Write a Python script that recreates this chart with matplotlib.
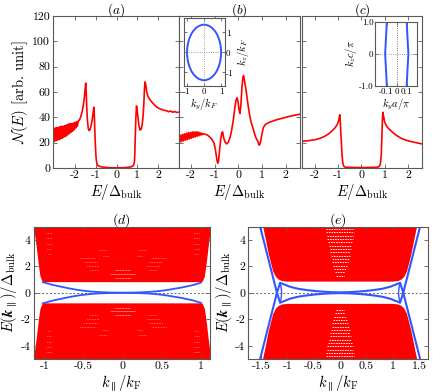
import matplotlib
matplotlib.use("Agg")
import matplotlib.pyplot as plt
from matplotlib.patches import Ellipse
import numpy as np

plt.rcParams['font.family'] = ['cmr10', 'DejaVu Serif']
plt.rcParams['mathtext.fontset'] = 'cm'
plt.rcParams['axes.unicode_minus'] = False
plt.rcParams['axes.formatter.use_mathtext'] = True

RED = '#ff0000'
BLUE = '#3355ff'
FRAME = '0.35'

# ---- (a) density of states ----
E_a = [-3.04, -3.00, -2.96, -2.92, -2.88, -2.84, -2.80, -2.76, -2.72, -2.68,
       -2.64, -2.60, -2.56, -2.52, -2.48, -2.44, -2.40, -2.36, -2.32, -2.28,
       -2.24, -2.20, -2.16, -2.12, -2.08, -2.04, -2.00, -1.96, -1.92, -1.88,
       -1.84, -1.80, -1.75, -1.70, -1.65, -1.60, -1.55, -1.51, -1.48, -1.46,
       -1.43, -1.40, -1.36, -1.32, -1.28, -1.24, -1.20, -1.16, -1.12, -1.09,
       -1.07, -1.05, -1.02, -0.99, -0.96, -0.92, -0.85, -0.70, -0.40, 0.00,
       0.40, 0.70, 0.82, 0.86, 0.88, 0.90, 0.93, 0.96, 0.99, 1.03,
       1.08, 1.13, 1.18, 1.23, 1.27, 1.31, 1.34, 1.37, 1.40, 1.45,
       1.50, 1.60, 1.75, 1.90, 2.05, 2.20, 2.30, 2.40, 2.50, 2.60,
       2.70, 2.80, 2.90, 3.00]
N_a = [31.0, 21.0, 31.5, 21.5, 32.0, 22.0, 32.0, 22.5, 32.5, 23.0,
       33.0, 23.5, 33.0, 24.5, 33.5, 25.0, 34.0, 26.0, 34.5, 27.0,
       35.0, 28.0, 35.0, 29.0, 35.5, 30.0, 36.0, 31.5, 36.5, 33.0,
       37.0, 37.5, 39.0, 41.5, 44.5, 49.0, 55.0, 62.0, 67.0, 62.0,
       48.0, 38.0, 31.5, 29.5, 30.0, 32.0, 35.0, 39.0, 44.0, 48.0,
       44.0, 33.0, 20.0, 10.0, 5.0, 2.5, 1.5, 0.8, 0.3, 0.1,
       0.3, 0.9, 2.0, 5.0, 12.0, 25.0, 40.0, 49.0, 46.0, 40.0,
       33.0, 30.0, 30.5, 34.0, 40.0, 50.0, 62.0, 68.0, 66.0, 60.0,
       57.0, 54.0, 51.0, 48.5, 47.0, 46.0, 45.5, 45.2, 44.4, 45.0,
       44.0, 44.6, 43.8, 44.2]

# ---- (b) density of states ----
E_b = [-2.50, -2.46, -2.42, -2.38, -2.34, -2.30, -2.26, -2.22, -2.18, -2.14,
       -2.10, -2.06, -2.02, -1.98, -1.94, -1.90, -1.86, -1.82, -1.78, -1.74,
       -1.70, -1.66, -1.62, -1.58, -1.54, -1.50, -1.45, -1.30, -1.15, -1.03,
       -0.97, -0.93, -0.89, -0.86, -0.83, -0.79, -0.74, -0.69, -0.66, -0.62,
       -0.56, -0.49, -0.42, -0.35, -0.28, -0.21, -0.15, -0.10, -0.05, -0.01,
       0.03, 0.07, 0.11, 0.15, 0.19, 0.22, 0.26, 0.33, 0.40, 0.47,
       0.54, 0.61, 0.68, 0.74, 0.79, 0.83, 0.86, 0.89, 0.93, 0.98,
       1.03, 1.07, 1.15, 1.30, 1.60, 1.90, 2.20, 2.60]
N_b = [25.5, 20.5, 26.0, 21.0, 26.5, 21.5, 27.0, 22.0, 27.5, 22.5,
       28.0, 23.0, 28.0, 23.5, 28.5, 24.0, 28.5, 24.5, 28.5, 25.0,
       28.5, 25.5, 28.0, 26.0, 27.5, 26.5, 27.0, 26.0, 23.5, 20.0,
       15.0, 10.0, 5.0, 3.8, 6.0, 14.0, 23.0, 28.0, 28.5, 24.0,
       20.5, 19.0, 20.5, 24.0, 30.0, 38.0, 47.0, 53.5, 55.5, 52.0,
       46.0, 43.0, 50.0, 63.0, 71.0, 73.0, 69.0, 61.0, 51.0, 42.5,
       36.0, 32.0, 27.5, 24.0, 22.0, 21.0, 18.5, 18.0, 20.0, 25.0,
       30.0, 32.5, 34.5, 36.0, 38.0, 39.5, 41.0, 42.5]

# ---- (c) density of states ----
E_c = [-2.60, -2.30, -2.00, -1.80, -1.60, -1.40, -1.25, -1.12, -1.02, -0.97,
       -0.93, -0.91, -0.89, -0.86, -0.83, -0.80, -0.76, -0.70, 0.00, 0.70,
       0.78, 0.82, 0.85, 0.88, 0.90, 0.92, 0.95, 1.00, 1.10, 1.20,
       1.35, 1.50, 1.70, 1.90, 2.10, 2.40, 2.60]
N_c = [21.0, 21.5, 22.3, 23.3, 24.8, 27.0, 29.5, 32.0, 35.0, 38.0,
       42.0, 38.0, 30.0, 20.0, 10.0, 4.0, 1.5, 0.6, 0.3, 0.6,
       1.5, 4.0, 10.0, 25.0, 38.0, 44.0, 41.0, 36.0, 32.5, 30.5,
       28.0, 25.8, 23.5, 22.0, 21.0, 19.8, 19.0]

# insets: Fermi surface (b) semi-axes, Fermi lines (c)
fs_ky_half = 1.0
fs_kz_half = 1.39
fl_kz = [-1.0, -0.5, 0.0, 0.5, 1.0]
fl_ky_left = [-0.098, -0.106, -0.115, -0.106, -0.098]
fl_ky_right = [0.098, 0.106, 0.115, 0.106, 0.098]

# ---- (d) spectrum ----
d_edge_k = [-1.14, -1.10, -1.07, -1.05, -1.02]
d_edge_E = [5.3, 3.5, 2.0, 1.2, 0.80]
d_surf_k = [-1.02, -0.90, -0.76, -0.64, -0.55, -0.42, -0.30, -0.15, 0.0,
            0.15, 0.30, 0.42, 0.55, 0.64, 0.76, 0.90, 1.00]
d_surf_E = [0.80, 0.60, 0.42, 0.28, 0.19, 0.10, 0.05, 0.015, 0.0,
            0.015, 0.05, 0.10, 0.19, 0.28, 0.40, 0.58, 0.76]
# white gaps in the dense spectrum (E, k_start, k_end)
d_gap_E = [4.5, 4.1, 3.7, 3.3, 2.9, 2.6, 2.3, 2.0, 1.7, 1.7, 1.4, 1.15, 3.2, 2.8]
d_gap_k0 = [-0.98, -0.98, -0.97, -0.97, -0.96, -0.55, -0.50, -0.46, -0.42, -0.10, -0.16, -0.10, -0.30, -0.25]
d_gap_k1 = [-0.90, -0.90, -0.90, -0.91, -0.91, -0.36, -0.32, -0.30, -0.32, 0.10, 0.16, 0.10, -0.20, -0.18]

# ---- (e) spectrum ----
e_edge_k = [-1.48, -1.42, -1.36, -1.31, -1.27, -1.22, -1.17, -1.10, -1.00]
e_edge_E = [5.3, 4.2, 3.0, 2.2, 1.6, 1.2, 1.0, 0.88, 0.84]
e_line_k = [-1.52, -1.20, -1.14, -0.95, -0.80, -0.63, -0.45, -0.32, -0.15, 0.0,
            0.15, 0.32, 0.45, 0.63, 0.80, 0.95, 1.14, 1.20, 1.52]
e_line_E = [-5.0, 0.0, 0.75, 0.45, 0.30, 0.20, 0.12, 0.08, 0.04, 0.03,
            0.04, 0.08, 0.12, 0.20, 0.30, 0.45, 0.75, 0.0, -5.0]
e_cusp_k = [-1.14, -1.12, -1.11, -1.12, -1.14]
e_cusp_E = [0.75, 0.40, 0.0, -0.40, -0.75]
e_gap_E = [1.30, 1.55, 1.80, 2.05, 2.30, 2.55, 2.80, 3.05, 3.30, 3.55, 3.80, 4.05, 4.30, 4.55, 4.80]
e_gap_half = [0.08, 0.10, 0.12, 0.13, 0.15, 0.16, 0.18, 0.19, 0.20, 0.21, 0.23, 0.24, 0.25, 0.26, 0.27]

top_xticks = [-2, -1, 0, 1, 2]
dos_yticks = [0, 20, 40, 60, 80, 100, 120]
d_xticks = [-1, -0.5, 0, 0.5, 1]
e_xticks = [-1.5, -1, -0.5, 0, 0.5, 1, 1.5]
band_yticks = [-4, -2, 0, 2, 4]


def fmt(v):
    return '%g' % v


def style(ax, fs=8.5):
    for s in ax.spines.values():
        s.set_color(FRAME)
        s.set_linewidth(0.8)
    ax.tick_params(direction='in', top=True, right=True, length=3,
                   width=0.6, color=FRAME, labelsize=fs, pad=2)


W, H = 436.0, 392.0


def px_axes(fig, x0, y0, x1, y1):
    return fig.add_axes([x0 / W, 1 - y1 / H, (x1 - x0) / W, (y1 - y0) / H])


fig = plt.figure(figsize=(4.36, 3.92), dpi=100)

ax_a = px_axes(fig, 53, 16, 179, 168)
ax_b = px_axes(fig, 179, 16, 300, 168)
ax_c = px_axes(fig, 302, 16, 422, 168)
top = [(ax_a, E_a, N_a, (-3.05, 3.0), '(a)'),
       (ax_b, E_b, N_b, (-2.5, 2.6), '(b)'),
       (ax_c, E_c, N_c, (-2.55, 2.6), '(c)')]
for ax, E, N, xl, t in top:
    ax.plot(E, N, color=RED, lw=1.2)
    ax.set_xlim(*xl)
    ax.set_ylim(0, 120)
    ax.set_xticks(top_xticks)
    ax.set_xticklabels([fmt(v) for v in top_xticks])
    ax.set_yticks(dos_yticks)
    style(ax)
    ax.set_xlabel(r'$E/\Delta_{\rm bulk}$', fontsize=10.5, labelpad=1)
    ax.set_title('$' + t + '$', fontsize=9.5, pad=1.5)
ax_a.set_yticklabels([fmt(v) for v in dos_yticks])
ax_a.set_ylabel(r'$\mathcal{N}(E)$ [arb. unit]', fontsize=10.5, labelpad=2)
ax_b.set_yticklabels([])
ax_c.set_yticklabels([])

# inset (b)
ins_b = px_axes(fig, 184, 17.5, 224.5, 86)
ins_b.add_patch(Ellipse((0, 0), 2 * fs_ky_half, 2 * fs_kz_half, fill=False,
                        ec=BLUE, lw=1.4))
ins_b.axhline(0, color='0.5', ls=':', lw=0.6)
ins_b.axvline(0, color='0.5', ls=':', lw=0.6)
ins_b.set_xlim(-1.18, 1.2)
ins_b.set_ylim(-1.68, 1.75)
ins_b.set_xticks([-1, 0, 1])
ins_b.set_xticklabels(['-1', '0', '1'])
ins_b.set_yticks([-1, 0, 1])
ins_b.set_yticklabels(['-1', '0', '1'])
style(ins_b, fs=6.5)
ins_b.tick_params(labelleft=False, labelright=True, length=2, pad=1)
ins_b.yaxis.set_label_position('right')
ins_b.set_xlabel(r'$k_y/k_F$', fontsize=7.5, labelpad=0)
ins_b.set_ylabel(r'$k_z/k_F$', fontsize=7.5, labelpad=1)

# inset (c)
ins_c = px_axes(fig, 375, 21.5, 417, 86)
ins_c.plot(fl_ky_left, fl_kz, color=BLUE, lw=1.4)
ins_c.plot(fl_ky_right, fl_kz, color=BLUE, lw=1.4)
ins_c.axhline(0, color='0.5', ls=':', lw=0.6)
ins_c.axvline(0, color='0.3', ls=':', lw=0.6)
ins_c.set_xlim(-0.215, 0.2)
ins_c.set_ylim(-1.0, 1.0)
ins_c.set_xticks([-0.1, 0, 0.1])
ins_c.set_xticklabels(['-0.1', '0', '0.1'])
ins_c.set_yticks([-1.0, 0, 1.0])
ins_c.set_yticklabels(['-1.0', '0', '1.0'])
style(ins_c, fs=6.5)
ins_c.tick_params(length=2, pad=1)
ins_c.set_xlabel(r'$k_y a/\pi$', fontsize=7.5, labelpad=0)
ins_c.set_ylabel(r'$k_z c/\pi$', fontsize=7.5, labelpad=0)

# ---- bottom panels ----
ax_d = px_axes(fig, 33.5, 226.5, 209.5, 359)
ax_e = px_axes(fig, 248, 226.5, 428, 359)


def band_polygon(edge_k, edge_E, sign):
    ks = list(edge_k) + [-k for k in edge_k[::-1]]
    Es = [sign * e for e in edge_E] + [sign * e for e in edge_E[::-1]]
    return ks, Es


for ax, ek, eE in [(ax_d, d_edge_k, d_edge_E), (ax_e, e_edge_k, e_edge_E)]:
    for sgn in (1, -1):
        ks, Es = band_polygon(ek, eE, sgn)
        ax.fill(ks, Es, color=RED, lw=0, zorder=1)
    ax.axhline(0, color='0.4', ls=(0, (2, 2)), lw=0.7, zorder=2)

# white gaps in the dense bulk spectrum of (d)
for E, k0, k1 in zip(d_gap_E, d_gap_k0, d_gap_k1):
    for se in (1, -1):
        for sk in (1, -1):
            ax_d.plot([sk * k0, sk * k1], [se * E, se * E], color='white',
                      lw=0.45, alpha=0.85, ls=(0, (1, 1.5)), zorder=1.5)

# white gaps in the center strip of (e)
for E, h in zip(e_gap_E, e_gap_half):
    for se in (1, -1):
        ax_e.plot([-h, h], [se * E, se * E], color='white', lw=0.6,
                  ls=(0, (2, 1)), zorder=1.5)

ax_d.plot(d_surf_k, d_surf_E, color=BLUE, lw=1.3, zorder=3)
ax_d.plot(d_surf_k, [-e for e in d_surf_E], color=BLUE, lw=1.3, zorder=3)

ax_e.plot(e_line_k, e_line_E, color=BLUE, lw=1.5, zorder=3)
ax_e.plot(e_line_k, [-e for e in e_line_E], color=BLUE, lw=1.5, zorder=3)
for sk in (1, -1):
    ax_e.plot([sk * k for k in e_cusp_k], e_cusp_E, color=BLUE, lw=1.0, zorder=3)

for ax, xt, xl, t in [(ax_d, d_xticks, (-1.14, 1.11), '(d)'),
                      (ax_e, e_xticks, (-1.75, 1.67), '(e)')]:
    ax.set_xlim(*xl)
    ax.set_ylim(-5, 5)
    ax.set_xticks(xt)
    ax.set_xticklabels([fmt(v) for v in xt])
    ax.set_yticks(band_yticks)
    ax.set_yticklabels([fmt(v) for v in band_yticks])
    style(ax)
    ax.set_xlabel(r'$k_{\parallel}/k_{\rm F}$', fontsize=10.5, labelpad=1)
    ax.set_ylabel(r'$E(\boldsymbol{k}_{\parallel})/\Delta_{\rm bulk}$',
                  fontsize=10.5, labelpad=1)
    ax.set_title('$' + t + '$', fontsize=10, pad=2)

fig.savefig('out.png', dpi=100)
